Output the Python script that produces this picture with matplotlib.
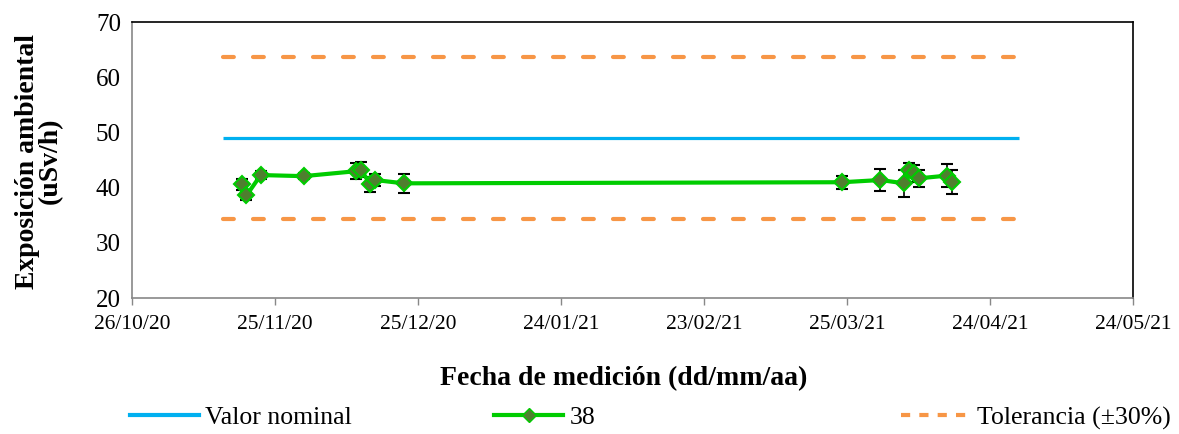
import numpy as np
import pandas as pd
import matplotlib
matplotlib.use("Agg")
import matplotlib.pyplot as plt
import matplotlib.dates as mdates
from matplotlib.lines import Line2D

plt.rcParams['font.family'] = ['Liberation Serif', 'DejaVu Serif']

# Measurement series for station 38
fechas = pd.to_datetime([
    "2020-11-18", "2020-11-19", "2020-11-22", "2020-12-01", "2020-12-12",
    "2020-12-13", "2020-12-15", "2020-12-16", "2020-12-22", "2021-03-24",
    "2021-04-01", "2021-04-06", "2021-04-07", "2021-04-08", "2021-04-09",
    "2021-04-15", "2021-04-16",
])
valores = [40.6, 38.6, 42.3, 42.1, 43.0, 43.3, 40.6, 41.4, 40.8, 41.0,
           41.4, 40.8, 43.2, 42.6, 41.7, 42.2, 41.0]
errores = [1.0, 0.8, 0.8, 0.5, 1.5, 1.3, 1.3, 1.0, 1.7, 1.2,
           2.0, 2.4, 1.2, 1.5, 1.5, 2.1, 2.2]

# Reference value and +-30% tolerance band
nominal = 49.0
tolerancia = 0.30
ref_fechas = pd.to_datetime(["2020-11-14", "2021-04-30"])

x_inicio = pd.Timestamp("2020-10-26")
x_fin = pd.Timestamp("2021-05-24")
y_ticks = [20, 30, 40, 50, 60, 70]

c_nominal = '#00b0f0'
c_serie = '#00cc00'
c_marker = '#4f7f2f'
c_tol = '#f79646'

fig = plt.figure(figsize=(11.79, 4.34), dpi=100)
ax = fig.add_axes([0.112, 0.313, 0.849, 0.636])

ax.plot(ref_fechas, [nominal] * 2, color=c_nominal, lw=2.3, solid_capstyle='butt')
for f in (1 + tolerancia, 1 - tolerancia):
    ax.plot(ref_fechas, [nominal * f] * 2, color=c_tol, lw=3,
            dashes=(2.6, 4.6), dash_capstyle='round')

ax.errorbar(fechas, valores, yerr=errores, fmt='none', ecolor='black',
            elinewidth=1.2, capsize=4, capthick=1.5, zorder=3)
ax.plot(fechas, valores, color=c_serie, lw=3, marker='D', markersize=8,
        markerfacecolor=c_marker, markeredgecolor=c_serie, markeredgewidth=1.5,
        zorder=4)

ax.set_xlim(x_inicio, x_fin)
ax.set_ylim(20, 70)
ax.set_yticks(y_ticks)
ax.set_xticks(pd.date_range(x_inicio, x_fin, freq='30D'))
ax.xaxis.set_major_formatter(mdates.DateFormatter('%d/%m/%y'))
ax.tick_params(axis='y', length=0, labelsize=18, pad=8)
ax.tick_params(axis='x', length=5, width=1, color='#888888', labelsize=15.5, pad=7)

for side in ('left', 'bottom'):
    ax.spines[side].set_color('#888888')
    ax.spines[side].set_linewidth(1.2)
for side in ('top', 'right'):
    ax.spines[side].set_color('black')
    ax.spines[side].set_linewidth(1.2)

fig.text(0.033, 0.629, "Exposición ambiental\n(uSv/h)", rotation=90,
         ha='center', va='center', multialignment='center',
         fontsize=20, fontweight='bold', linespacing=0.85)
fig.text(0.529, 0.127, "Fecha de medición (dd/mm/aa)", ha='center', va='center',
         fontsize=20, fontweight='bold')

# Legend entries placed in three slots along the bottom
entradas = [
    (Line2D([], [], color=c_nominal, lw=3), "Valor nominal", 0.110),
    (Line2D([], [], color=c_serie, lw=3, marker='D', markersize=7,
            markerfacecolor=c_marker, markeredgecolor=c_serie), "38", 0.419),
    (Line2D([], [], color=c_tol, lw=3, dashes=(2.2, 2.2)), "Tolerancia (±30%)", 0.764),
]
for h, lab, xpos in entradas:
    fig.legend([h], [lab], loc='center left', bbox_to_anchor=(xpos, 0.037),
               frameon=False, fontsize=18.5, handlelength=2.7, handletextpad=0.25,
               borderpad=0, borderaxespad=0)

fig.savefig("out.png", dpi=100)
